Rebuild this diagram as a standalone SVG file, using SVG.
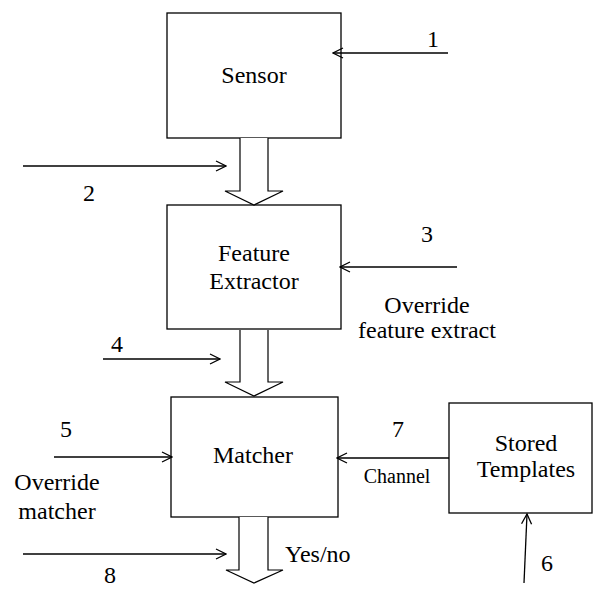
<svg xmlns="http://www.w3.org/2000/svg" width="594" height="589" viewBox="0 0 594 589">
<defs>
<marker id="ah" viewBox="0 0 12 12" refX="11" refY="6" markerWidth="12" markerHeight="12" markerUnits="userSpaceOnUse" orient="auto">
<path d="M1,1 L11,6 L1,11" fill="none" stroke="#000" stroke-width="1.3"/>
</marker>
<style>
.box{fill:#fff;stroke:#000;stroke-width:1.3}
.blk{fill:#fff;stroke:#000;stroke-width:1.2}
.ln{fill:none;stroke:#000;stroke-width:1.3;marker-end:url(#ah)}
.t{font-family:'Liberation Serif','Times New Roman','DejaVu Serif',serif;fill:#000;font-size:24px}
.c{text-anchor:middle}
.sm{font-size:20px}
</style>
</defs>
<rect width="594" height="589" fill="#fff"/>
<g id="sensor">
<rect class="box" x="167" y="13" width="174" height="125"/>
<text class="t c" x="254" y="83" font-family="Liberation Serif, serif">Sensor</text>
</g>
<g id="feature-extractor">
<rect class="box" x="167" y="205" width="174" height="124"/>
<text class="t c" x="254" y="261" font-family="Liberation Serif, serif">Feature</text>
<text class="t c" x="254" y="289" font-family="Liberation Serif, serif">Extractor</text>
</g>
<g id="matcher">
<rect class="box" x="171" y="397" width="167" height="120"/>
<text class="t c" x="253" y="463" font-family="Liberation Serif, serif">Matcher</text>
</g>
<g id="stored-templates">
<rect class="box" x="449" y="403" width="143" height="110"/>
<text class="t c" x="526" y="451" font-family="Liberation Serif, serif">Stored</text>
<text class="t c" x="526" y="477" font-family="Liberation Serif, serif">Templates</text>
</g>
<g id="connectors">
<path class="blk" d="M240,138 L240,191 L225,191 L254,205 L283,191 L268,191 L268,138"/>
<path class="blk" d="M240,330 L240,382 L225,382 L254,396 L283,382 L268,382 L268,330"/>
<path class="blk" d="M239,517 L239,570 L226,570 L254,583 L283,570 L268,570 L268,517"/>
<line class="ln" x1="448" y1="53" x2="333" y2="53"/>
<line class="ln" x1="23" y1="166" x2="226" y2="166"/>
<line class="ln" x1="457" y1="267" x2="340" y2="267"/>
<line class="ln" x1="103" y1="359" x2="220" y2="359"/>
<line class="ln" x1="54" y1="457" x2="172" y2="457"/>
<line class="ln" x1="449" y1="458" x2="337" y2="458"/>
<line class="ln" x1="23" y1="554" x2="226" y2="554"/>
<line class="ln" x1="524" y1="583" x2="527" y2="514"/>
</g>
<g id="labels" font-family="Liberation Serif, serif">
<text class="t c" x="433" y="47">1</text>
<text class="t c" x="89" y="201">2</text>
<text class="t c" x="427" y="242">3</text>
<text class="t c" x="427" y="313">Override</text>
<text class="t c" x="427" y="338">feature extract</text>
<text class="t c" x="117" y="352">4</text>
<text class="t c" x="66" y="437">5</text>
<text class="t c" x="57" y="490">Override</text>
<text class="t c" x="57" y="519">matcher</text>
<text class="t c" x="398" y="437">7</text>
<text class="t c sm" x="397" y="483">Channel</text>
<text class="t" x="285" y="562">Yes/no</text>
<text class="t c" x="110" y="583">8</text>
<text class="t c" x="547" y="571">6</text>
</g>
</svg>
